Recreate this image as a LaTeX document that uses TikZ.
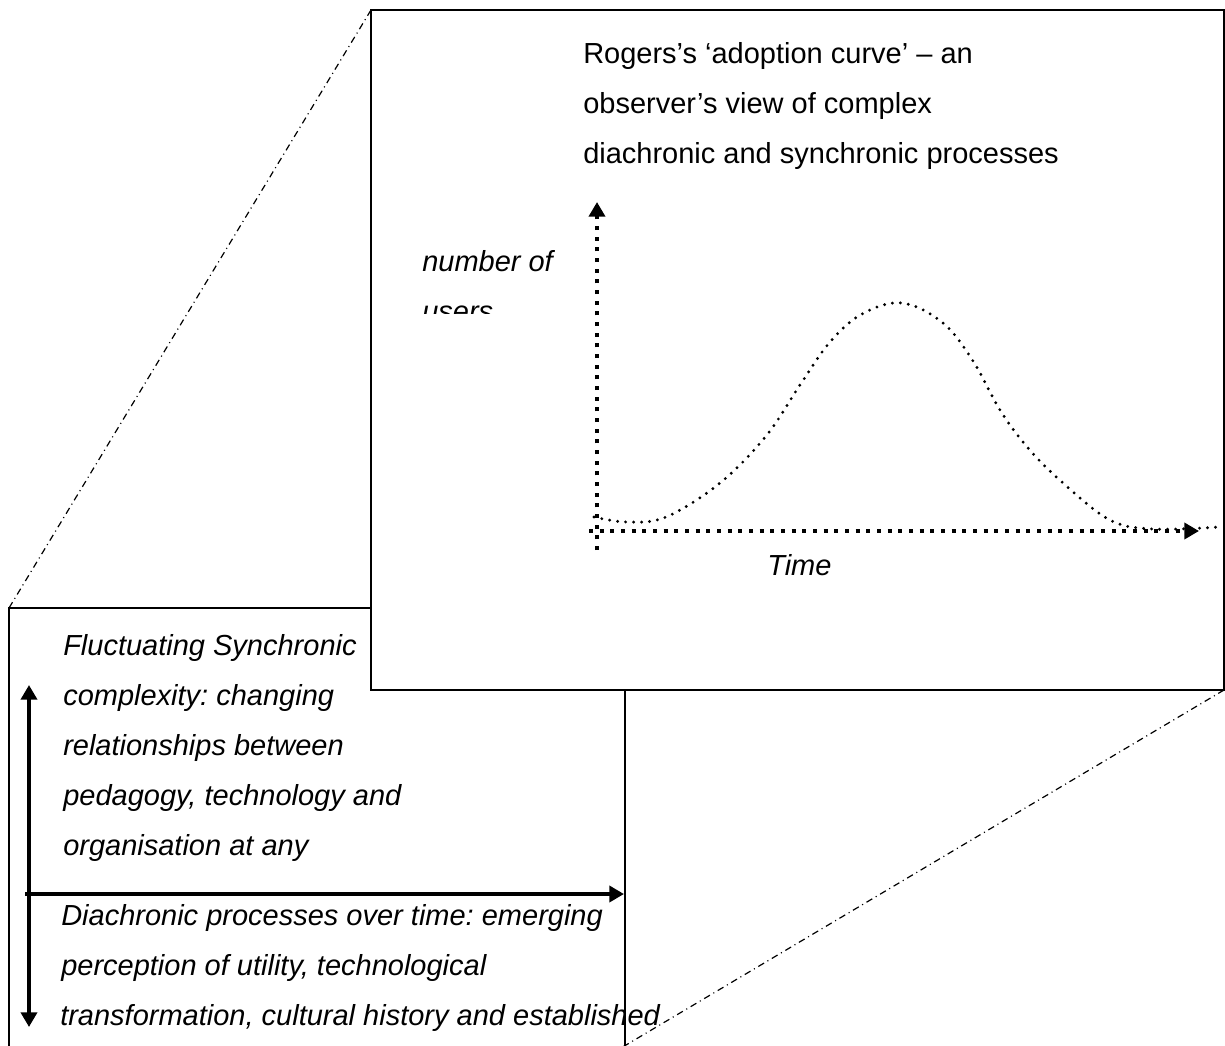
\documentclass[tikz,border=0pt]{standalone}
\usepackage{fontspec}
\setmainfont{Liberation Sans}
\usetikzlibrary{arrows.meta}
\frenchspacing
\begin{document}
\begin{tikzpicture}[x=0.75pt,y=-0.75pt,
  txt/.style={anchor=base west,inner sep=0pt,font=\fontsize{21.75}{26}\selectfont\frenchspacing},
  itxt/.style={anchor=base west,inner sep=0pt,font=\fontsize{21.75}{26}\selectfont\itshape\frenchspacing},
  frame/.style={draw=black,line width=1pt},
  dashdot/.style={line width=0.9pt,dash pattern=on 5pt off 3pt on 0.8pt off 3pt},
  axis/.style={line width=3pt,dash pattern=on 3pt off 5pt,-{Triangle[width=12pt,length=11pt]}},
  solidarrow/.style={line width=3pt,-{Triangle[width=12pt,length=11pt]}},
  dblarrow/.style={line width=3pt,{Triangle[width=12pt,length=11pt]}-{Triangle[width=12pt,length=11pt]}},
  curvedots/.style={line width=2.4pt,line cap=round,dash pattern=on 0pt off 6pt}]
\useasboundingbox (0,0) rectangle (1225,1046);
\clip (0,0) rectangle (1225,1046);
% bottom box
\coordinate (bTL) at (9,608);
\coordinate (bTR) at (625,608);
\coordinate (bBL) at (9,1060);
\coordinate (bBR) at (625,1060);
\draw[frame] (bBL) -- (bTL) -- (bTR) -- (bBR);
% top box
\coordinate (tTL) at (371,10);
\coordinate (tBR) at (1224,690);
\filldraw[frame,fill=white] (tTL) rectangle (tBR);
% dash-dot projection lines
\coordinate (dEnd) at (621,1048);
\draw[dashdot] (tTL) -- (bTL);
\draw[dashdot] (tBR) -- (dEnd);
% title
\node[txt] (t1) at (583,63) {Rogers’s ‘adoption curve’ – an};
\node[txt] (t2) at (583,113) {observer’s view of complex};
\node[txt] (t3) at (583,163) {diachronic and synchronic processes};
% axis labels
\node[itxt] (nof) at (422,271) {number of};
\begin{scope}
  \clip (371,0) rectangle (590,313);
  \node[itxt] (users) at (422,321) {users};
\end{scope}
\node[itxt] (time) at (767,575) {Time};
% axes
\coordinate (yb) at (597,550);
\coordinate (yt) at (597,202);
\coordinate (xl) at (589,531);
\coordinate (xr) at (1199,531);
\draw[axis] (yb) -- (yt);
\draw[axis] (xl) -- (xr);
% adoption curve
\draw[curvedots] plot[smooth,tension=0.6] coordinates {
  (594,517) (627,522) (666,517) (720,483) (766,436) (800,385) (830,342)
  (862,314) (902,303) (943,323) (973,361) (1000,410) (1028,448)
  (1063,483) (1110,520) (1153,529) (1220,527)};
% bottom box texts
\node[itxt] (s1) at (63,655) {Fluctuating Synchronic};
\node[itxt] (s2) at (63,705) {complexity: changing};
\node[itxt] (s3) at (63,755) {relationships between};
\node[itxt] (s4) at (63,805) {pedagogy, technology and};
\node[itxt] (s5) at (63,855) {organisation at any};
\node[itxt] (d1) at (61,925) {Diachronic processes over time: emerging};
\node[itxt] (d2) at (61,975) {perception of utility, technological};
\node[itxt] (d3) at (60,1025) {transformation, cultural history and established};
% solid arrows
\coordinate (vtop) at (29,685);
\coordinate (vbot) at (29,1027);
\coordinate (hl) at (25,894);
\coordinate (hr) at (624,894);
\draw[dblarrow] (vbot) -- (vtop);
\draw[solidarrow] (hl) -- (hr);
\end{tikzpicture}
\end{document}
